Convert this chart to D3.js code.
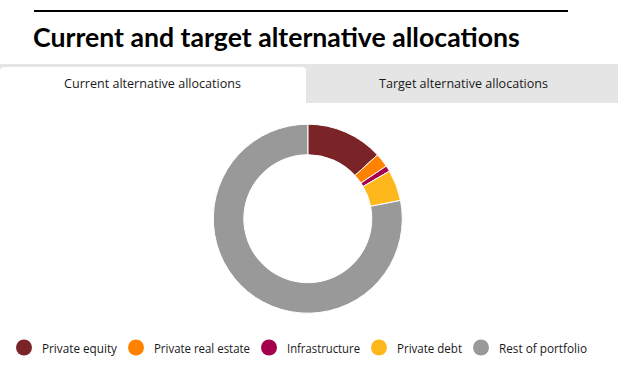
<!DOCTYPE html>
<html>
<head>
<meta charset="utf-8">
<script src="https://cdn.jsdelivr.net/npm/d3@7"></script>
<style>
  html, body { margin: 0; padding: 0; background: #fff; }
  svg { display: block; font-family: "Open Sans", "Noto Sans", sans-serif; }
</style>
</head>
<body>
<div id="chart"></div>
<script>
var categories = ["Private equity", "Private real estate", "Infrastructure", "Private debt", "Rest of portfolio"];
var values = [13.2, 2.4, 1.0, 5.3, 78.1];
var colors = ["#7b2428", "#ff8300", "#a4004d", "#ffb81c", "#999999"];
var tabLabels = ["Current alternative allocations", "Target alternative allocations"];
var title = "Current and target alternative allocations";

var W = 618, H = 373;
var svg = d3.select("#chart").append("svg")
    .attr("width", W).attr("height", H);

// shrink/grow a font so the text takes a given width
function fitFont(sel, size, width) {
    sel.style("font-size", size + "px");
    var w = sel.node().getComputedTextLength();
    sel.style("font-size", (size * width / w) + "px");
}

// rule + title
svg.append("rect").attr("x", 34).attr("y", 10).attr("width", 534).attr("height", 2).attr("fill", "#000");
var t = svg.append("text")
    .attr("x", 33).attr("y", 47)
    .style("font-family", "Lato, sans-serif")
    .style("font-weight", 700)
    .attr("fill", "#000").text(title);
fitFont(t, 25, 487);

// tabs
svg.append("rect").attr("x", 0).attr("y", 64).attr("width", W).attr("height", 39).attr("fill", "#e5e5e5");
svg.append("path")
    .attr("d", "M0,103 L0,71 Q0,67 4,67 L302,67 Q306,67 306,71 L306,103 Z")
    .attr("fill", "#fff");
var tabW = [177, 169];
svg.selectAll(".tab").data(tabLabels).enter().append("text")
    .attr("class", "tab")
    .attr("x", function(d, i) { return i == 0 ? 152.5 : 463.5; })
    .attr("y", 88)
    .attr("text-anchor", "middle")
    .style("font-size", "13.5px")
    .attr("fill", "#1a1a1a")
    .attr("textLength", function(d, i) { return tabW[i]; })
    .attr("lengthAdjust", "spacingAndGlyphs")
    .text(function(d) { return d; });

// donut
var data = categories.map(function(c, i) { return {name: c, value: values[i], color: colors[i]}; });
var pie = d3.pie().sort(null).value(function(d) { return d.value; });
var arc = d3.arc().innerRadius(64).outerRadius(94.5);
svg.append("g").attr("transform", "translate(307.8,218.7)")
    .selectAll("path").data(pie(data)).enter().append("path")
    .attr("d", arc)
    .attr("fill", function(d) { return d.data.color; })
    .attr("stroke", "#fff").attr("stroke-width", 1);

// legend (label widths)
var labelW = [75, 96, 73, 65, 88];
var legend = svg.append("g").attr("transform", "translate(0,347.5)");
var x = 24;
data.forEach(function(d, i) {
    var g = legend.append("g").attr("transform", "translate(" + x + ",0)");
    g.append("circle").attr("r", 8).attr("fill", d.color);
    g.append("text").attr("x", 18).attr("y", 5)
        .style("font-size", "13.5px").attr("fill", "#1a1a1a")
        .attr("textLength", labelW[i])
        .attr("lengthAdjust", "spacingAndGlyphs")
        .text(d.name);
    x += 18 + labelW[i] + 19;
});
</script>
</body>
</html>
